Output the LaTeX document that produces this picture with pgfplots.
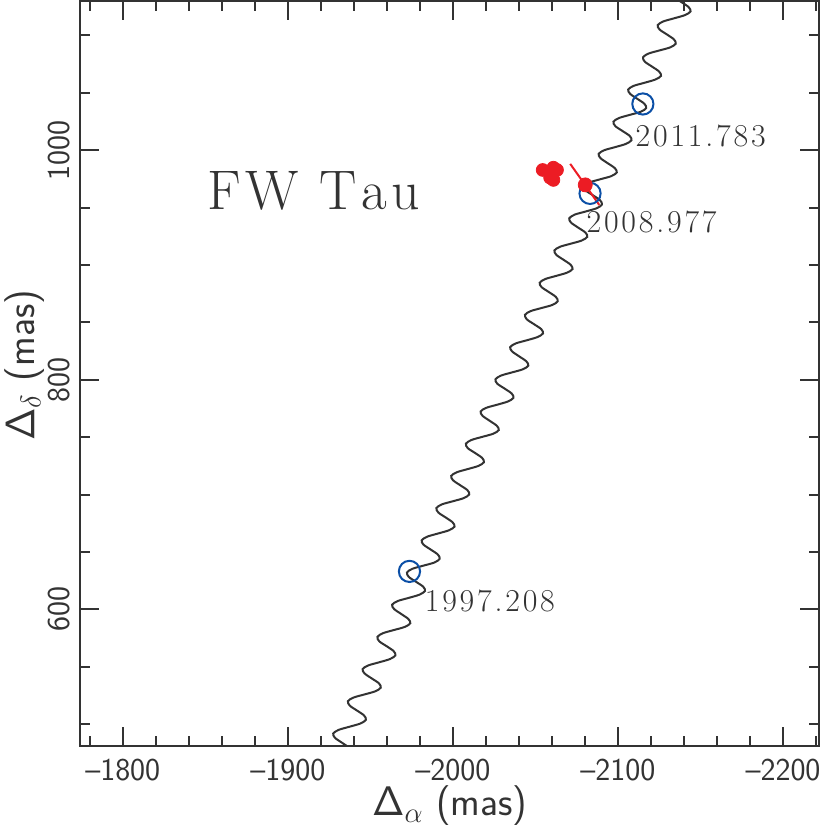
\documentclass[border=0pt]{standalone}
\usepackage{pgfplots}
\pgfplotsset{compat=1.18}
\definecolor{axgray}{HTML}{333333}
\definecolor{obsred}{HTML}{EC1C24}
\definecolor{epblue}{HTML}{0B4FA6}
\newcommand\ls{\kern1.4bp}
\newcommand\LS{\kern2.2bp}

\begin{document}
\begin{tikzpicture}
\begin{axis}[
  at={(0,0)}, anchor=south west,
  scale only axis, width=369.25bp, height=372.5bp,
  x dir=reverse,
  xmin=-2221.8, xmax=-1774.4, ymin=481, ymax=1130,
  xtick={-2200,-2100,-2000,-1900,-1800},
  xticklabels={\textendash2200,\textendash2100,\textendash2000,\textendash1900,\textendash1800},
  ytick={600,800,1000},
  minor xtick={-2220,-2180,-2160,-2140,-2120,-2080,-2060,-2040,-2020,-1980,-1960,-1940,-1920,-1880,-1860,-1840,-1820,-1780},
  minor ytick={500,550,650,700,750,850,900,950,1050,1100},
  xtick pos=both, ytick pos=both,
  tick align=inside,
  major tick length=9.5bp, minor tick length=5bp,
  axis line style={line width=1bp, axgray},
  tick style={line width=1bp, axgray},
  tick label style={font=\fontsize{16}{18}\sffamily, text=axgray, inner sep=0pt},
  /pgf/number format/assume math mode=true,
  /pgf/number format/1000 sep={},
  yticklabel style={rotate=90, anchor=south},
  xticklabel shift=6.5bp, yticklabel shift=5bp,
  xlabel={$\mathsf{\Delta}_{\alpha}$ (mas)},
  ylabel={$\mathsf{\Delta}_{\delta}$ (mas)},
  label style={font=\fontsize{20}{22}\sffamily, text=axgray, inner sep=0pt},
  xlabel style={at={(axis description cs:0.5,0)}, anchor=center, yshift=-30bp},
  ylabel style={at={(axis description cs:0,0.511)}, anchor=center, yshift=28bp},
]
% apparent path: proper motion plus parallax
\addplot[smooth, line width=1bp, axgray] coordinates {
(-1937.3,479.5)
(-1932.9,483.8) (-1928.6,488.1) (-1927.5,491.9) (-1930.9,495.1) (-1937.4,497.8) (-1944.0,500.6) (-1947.3,503.8) (-1946.2,507.6)
(-1941.9,511.9) (-1937.6,516.1) (-1936.4,520.0) (-1939.8,523.2) (-1946.4,525.9) (-1952.9,528.6) (-1956.3,531.8) (-1955.2,535.6)
(-1950.8,539.9) (-1946.5,544.2) (-1945.3,548.0) (-1948.7,551.2) (-1955.3,553.9) (-1961.8,556.7) (-1965.2,559.9) (-1964.1,563.7)
(-1959.8,568.0) (-1955.4,572.2) (-1954.3,576.1) (-1957.7,579.3) (-1964.2,582.0) (-1970.8,584.7) (-1974.2,587.9) (-1973.0,591.7)
(-1968.7,596.0) (-1964.4,600.3) (-1963.2,604.1) (-1966.6,607.3) (-1973.2,610.0) (-1979.7,612.8) (-1983.1,616.0) (-1982.0,619.8)
(-1977.6,624.1) (-1973.3,628.3) (-1972.2,632.2) (-1975.5,635.4) (-1982.1,638.1) (-1988.7,640.8) (-1992.0,644.0) (-1990.9,647.8)
(-1986.6,652.1) (-1982.2,656.4) (-1981.1,660.2) (-1984.5,663.4) (-1991.0,666.1) (-1997.6,668.9) (-2001.0,672.1) (-1999.8,675.9)
(-1995.5,680.2) (-1991.2,684.4) (-1990.0,688.3) (-1993.4,691.5) (-2000.0,694.2) (-2006.5,696.9) (-2009.9,700.1) (-2008.8,703.9)
(-2004.4,708.2) (-2000.1,712.5) (-1999.0,716.3) (-2002.4,719.5) (-2008.9,722.2) (-2015.5,725.0) (-2018.8,728.2) (-2017.7,732.0)
(-2013.4,736.3) (-2009.0,740.5) (-2007.9,744.4) (-2011.3,747.6) (-2017.8,750.3) (-2024.4,753.0) (-2027.8,756.2) (-2026.6,760.0)
(-2022.3,764.3) (-2018.0,768.6) (-2016.8,772.4) (-2020.2,775.6) (-2026.8,778.3) (-2033.3,781.1) (-2036.7,784.3) (-2035.6,788.1)
(-2031.3,792.4) (-2026.9,796.6) (-2025.8,800.5) (-2029.2,803.7) (-2035.7,806.4) (-2042.3,809.1) (-2045.7,812.3) (-2044.5,816.1)
(-2040.2,820.4) (-2035.9,824.7) (-2034.7,828.5) (-2038.1,831.7) (-2044.7,834.4) (-2051.2,837.2) (-2054.6,840.4) (-2053.5,844.2)
(-2049.1,848.5) (-2044.8,852.7) (-2043.7,856.6) (-2047.0,859.8) (-2053.6,862.5) (-2060.2,865.2) (-2063.5,868.4) (-2062.4,872.2)
(-2058.1,876.5) (-2053.7,880.8) (-2052.6,884.6) (-2056.0,887.8) (-2062.5,890.5) (-2069.1,893.3) (-2072.5,896.5) (-2071.3,900.3)
(-2067.0,904.6) (-2062.7,908.8) (-2061.5,912.7) (-2064.9,915.9) (-2071.5,918.6) (-2078.0,921.3) (-2081.4,924.5) (-2080.3,928.3)
(-2075.9,932.6) (-2071.6,936.9) (-2070.5,940.7) (-2073.8,943.9) (-2080.4,946.6) (-2087.0,949.4) (-2090.3,952.6) (-2089.2,956.4)
(-2084.9,960.7) (-2080.5,964.9) (-2079.4,968.8) (-2082.8,972.0) (-2089.3,974.7) (-2095.9,977.4) (-2099.3,980.6) (-2098.1,984.4)
(-2093.8,988.7) (-2089.5,993.0) (-2088.3,996.8) (-2091.7,1000.0) (-2098.3,1002.7) (-2104.8,1005.5) (-2108.2,1008.7) (-2107.1,1012.5)
(-2102.7,1016.8) (-2098.4,1021.0) (-2097.3,1024.9) (-2100.7,1028.1) (-2107.2,1030.8) (-2113.8,1033.5) (-2117.1,1036.7) (-2116.0,1040.5)
(-2111.7,1044.8) (-2107.4,1049.1) (-2106.2,1052.9) (-2109.6,1056.1) (-2116.2,1058.8) (-2122.7,1061.6) (-2126.1,1064.8) (-2124.9,1068.6)
(-2120.6,1072.9) (-2116.3,1077.1) (-2115.2,1081.0) (-2118.5,1084.2) (-2125.1,1086.9) (-2131.7,1089.6) (-2135.0,1092.8) (-2133.9,1096.6)
(-2129.6,1100.9) (-2125.2,1105.2) (-2124.1,1109.0) (-2127.5,1112.2) (-2134.0,1114.9) (-2140.6,1117.7) (-2144.0,1120.9) (-2142.8,1124.7)
(-2138.5,1129.0) (-2134.2,1133.2) (-2133.0,1137.1)
};
% epochs
\addplot[only marks, mark=o, mark size=5.3bp, epblue, mark options={line width=1bp}] coordinates {
(-1973.7,633.1) (-2083.1,962.4) (-2115.1,1040.3)
};
% measured positions
\addplot[only marks, mark=*, mark size=3.2bp, obsred] coordinates {
(-2054.4,982.8) (-2060.9,984.8) (-2063.1,982.8) (-2060.9,974.1) (-2058.9,976.1)
};
\addplot[line width=1bp, obsred] coordinates {(-2071.1,988.1) (-2088.7,952.3)};
\addplot[only marks, mark=*, mark size=3.5bp, obsred] coordinates {(-2080.2,969.8)};

\node[anchor=west, inner sep=0pt, text=axgray, font=\fontsize{28}{30}\selectfont] at (axis cs:-1850.9,964.5) {F\LS W\LS\ T\LS a\LS u};
\node[anchor=west, inner sep=0pt, text=axgray, font=\fontsize{16}{18}\selectfont] at (axis cs:-2110.5,1012.5) {2\ls0\ls1\ls1\ls.\ls7\ls8\ls3};
\node[anchor=west, inner sep=0pt, text=axgray, font=\fontsize{16}{18}\selectfont] at (axis cs:-2080.8,937.5) {2\ls0\ls0\ls8\ls.\ls9\ls7\ls7};
\node[anchor=west, inner sep=0pt, text=axgray, font=\fontsize{16}{18}\selectfont] at (axis cs:-1982.8,607.2) {1\ls9\ls9\ls7\ls.\ls2\ls0\ls8};
\end{axis}
\pgfresetboundingbox
\path[use as bounding box] (-40.25bp,-40.75bp) rectangle (374.75bp,373bp);
\end{tikzpicture}
\end{document}
